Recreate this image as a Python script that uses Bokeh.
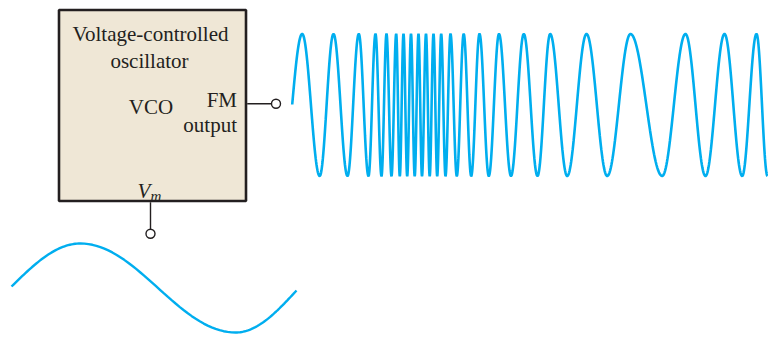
import numpy as np
from bokeh.plotting import figure
from bokeh.models import Range1d
from bokeh.core.properties import value
from bokeh.embed import file_html
from bokeh.resources import INLINE

# ---- data (page pixel coordinates) ----
fm_start = (291.7, 104.0)
fm_peaks_x = [301.7, 333.0, 358.3, 375.0, 386.0, 395.7, 403.0, 410.5, 418.0, 425.5,
              433.0, 440.7, 450.0, 463.2, 479.0, 498.5, 523.3, 549.7, 586.0, 630.0,
              685.0, 724.0, 756.0]
fm_troughs_x = [319.2, 347.0, 368.0, 381.0, 391.0, 399.3, 406.7, 414.2, 421.5, 429.2,
                436.7, 445.0, 456.3, 470.7, 488.3, 510.5, 537.0, 566.7, 606.7, 661.7,
                705.0, 741.7, 767.0]
fm_peak_y = 33.5
fm_trough_y = 175.5

mod_x = [11.0, 80.0, 235.0, 296.0]
mod_y = [286.0, 243.0, 332.0, 290.0]
mod_kind = ["m", "e", "e", "m"]

labels = ["Voltage-controlled", "oscillator", "VCO", "FM", "output"]

BLUE = "#00aeef"
DARK = "#231f20"
BEIGE = "#efe7d6"
SERIF = "Liberation Serif"


def render(xs, ys, kinds, n=40):
    ox, oy = [], []
    for i in range(len(xs) - 1):
        t = np.linspace(0, 1, n)
        a, b = kinds[i], kinds[i + 1]
        if a == "e" and b == "e":
            f = (1 - np.cos(np.pi * t)) / 2
        elif a == "m" and b == "e":
            f = np.sin(np.pi / 2 * t)
        elif a == "e" and b == "m":
            f = 1 - np.cos(np.pi / 2 * t)
        else:
            f = t
        seg_x = xs[i] + (xs[i + 1] - xs[i]) * t
        seg_y = ys[i] + (ys[i + 1] - ys[i]) * f
        if i > 0:
            seg_x, seg_y = seg_x[1:], seg_y[1:]
        ox.extend(seg_x)
        oy.extend(seg_y)
    return ox, oy


pts = [(fm_start[0], fm_start[1], "m")]
pts += [(x, fm_peak_y, "e") for x in fm_peaks_x]
pts += [(x, fm_trough_y, "e") for x in fm_troughs_x]
pts.sort(key=lambda p: p[0])
fx, fy = render([p[0] for p in pts], [p[1] for p in pts], [p[2] for p in pts])
mx, my = render(mod_x, mod_y, mod_kind)

p = figure(width=768, height=337, output_backend="svg", toolbar_location=None,
           x_range=Range1d(0, 768), y_range=Range1d(337, 0), min_border=0)
p.axis.visible = False
p.grid.visible = False
p.outline_line_color = None
p.background_fill_color = "white"
p.border_fill_color = "white"

# VCO box
p.quad(left=[58.5], right=[245.5], top=[9.5], bottom=[200.5],
       fill_color=BEIGE, line_color=DARK, line_width=2.6)

# connectors
p.line([246.7, 271.0], [103.3, 103.3], line_color=DARK, line_width=1.4)
p.line([150.0, 150.0], [201.7, 229.0], line_color=DARK, line_width=1.4)
p.scatter([275.5, 150.0], [103.3, 233.3], size=9, marker="circle",
          fill_color="white", line_color=DARK, line_width=1.4)

# waveforms
p.line(fx, fy, line_color=BLUE, line_width=2.6)
p.line(mx, my, line_color=BLUE, line_width=2.4)

# texts
p.text(x=[150, 149, 150.5], y=[33, 60, 106], text=labels[:3],
       text_font=value(SERIF), text_font_size="21px", text_color=DARK,
       text_align="center", text_baseline="alphabetic")
p.text(x=[236.5, 236.5], y=[99, 124], text=labels[3:],
       text_font=value(SERIF), text_font_size="21px", text_color=DARK,
       text_align="right", text_baseline="alphabetic")
p.text(x=[137], y=[190], text=["V"], text_font=value(SERIF), text_font_size="21px",
       text_font_style="italic", text_color=DARK, text_baseline="alphabetic")
p.text(x=[150], y=[195], text=["m"], text_font=value(SERIF), text_font_size="15px",
       text_font_style="italic", text_color=DARK, text_baseline="alphabetic")

open("out.html", "w").write(file_html(p, INLINE))
